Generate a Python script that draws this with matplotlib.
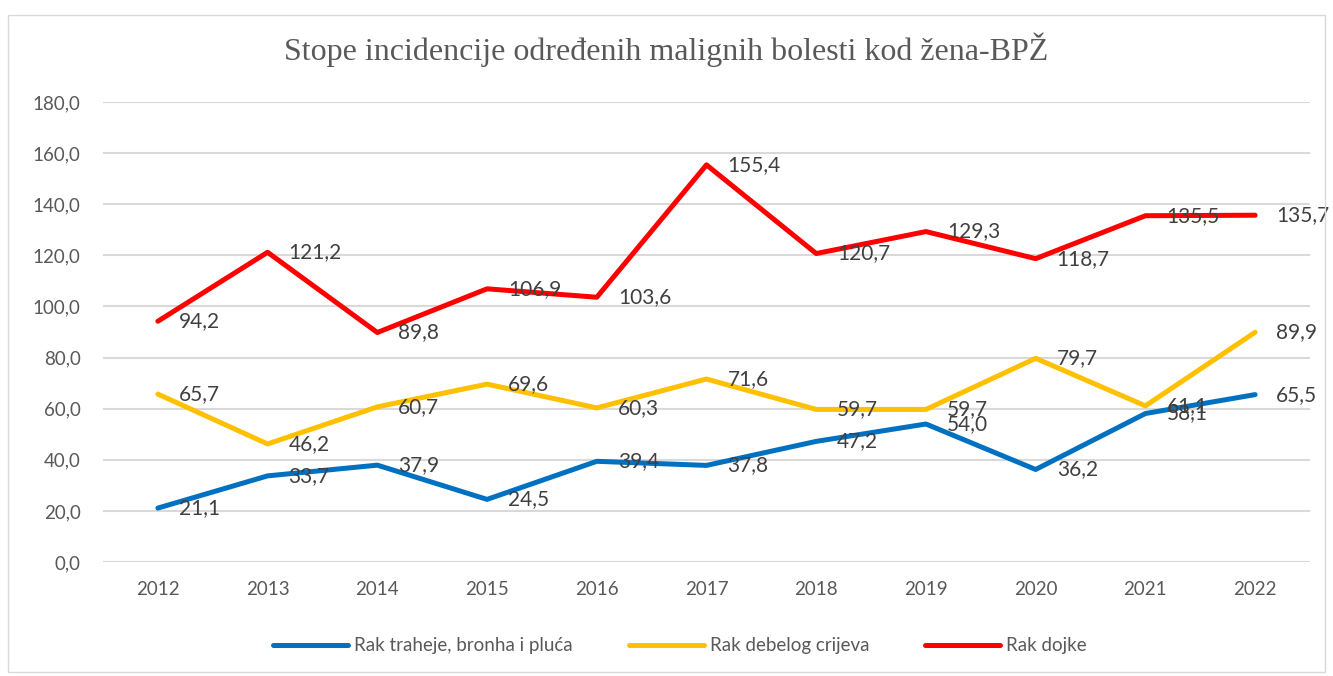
import matplotlib.pyplot as plt
from matplotlib.patches import Rectangle

years = ["2012", "2013", "2014", "2015", "2016", "2017", "2018", "2019", "2020", "2021", "2022"]
pluca = [21.1, 33.7, 37.9, 24.5, 39.4, 37.8, 47.2, 54.0, 36.2, 58.1, 65.5]
crijevo = [65.7, 46.2, 60.7, 69.6, 60.3, 71.6, 59.7, 59.7, 79.7, 61.1, 89.9]
dojka = [94.2, 121.2, 89.8, 106.9, 103.6, 155.4, 120.7, 129.3, 118.7, 135.5, 135.7]

series = [
    ("Rak traheje, bronha i pluća", pluca, "#0070C0"),
    ("Rak debelog crijeva", crijevo, "#FFC000"),
    ("Rak dojke", dojka, "#FF0000"),
]

txt = "#595959"
plt.rcParams["font.family"] = ["Lato", "DejaVu Sans"]

fig = plt.figure(figsize=(13.33, 6.76), dpi=100)
fig.patches.append(Rectangle((8 / 1333, 4 / 676), 1317 / 1333, 657 / 676, transform=fig.transFigure,
                             fill=False, edgecolor="#D9D9D9", linewidth=1))
ax = fig.add_axes([103 / 1333, 1 - 562 / 676, 1207 / 1333, 460 / 676])

x = list(range(len(years)))
for name, vals, col in series:
    ax.plot(x, vals, color=col, linewidth=3.6, label=name, solid_capstyle="round", solid_joinstyle="round")
    # labels sit to the right of each point, like Excel's "Right" position
    for xi, v in zip(x, vals):
        ax.annotate(f"{v:.1f}".replace(".", ","), (xi, v), xytext=(21, 0), textcoords="offset pixels",
                    ha="left", va="center", fontsize=15, color="#404040")

ax.set_xlim(-0.5, len(years) - 0.5)
ax.set_ylim(0, 180)
ax.set_yticks(range(0, 181, 20))
ax.set_yticklabels([f"{t},0" for t in range(0, 181, 20)])
ax.set_xticks(x)
ax.set_xticklabels(years)
ax.tick_params(length=0, labelsize=13.5, labelcolor=txt)
ax.tick_params(axis="x", pad=14)
ax.tick_params(axis="y", pad=16)
ax.grid(axis="y", color="#D9D9D9", linewidth=1.5)
ax.set_axisbelow(True)
for s in ax.spines.values():
    s.set_visible(False)

fig.text(0.5, 1 - 50 / 676, "Stope incidencije određenih malignih bolesti kod žena-BPŽ",
         ha="center", va="center", fontsize=23, color=txt, family="Liberation Serif")

fig.legend(loc="center", bbox_to_anchor=(680 / 1333, 1 - 646 / 676), ncol=3, frameon=False,
           fontsize=13.5, labelcolor=txt, handlelength=4, handletextpad=0.3, columnspacing=3)

fig.savefig("out.png", dpi=100)
